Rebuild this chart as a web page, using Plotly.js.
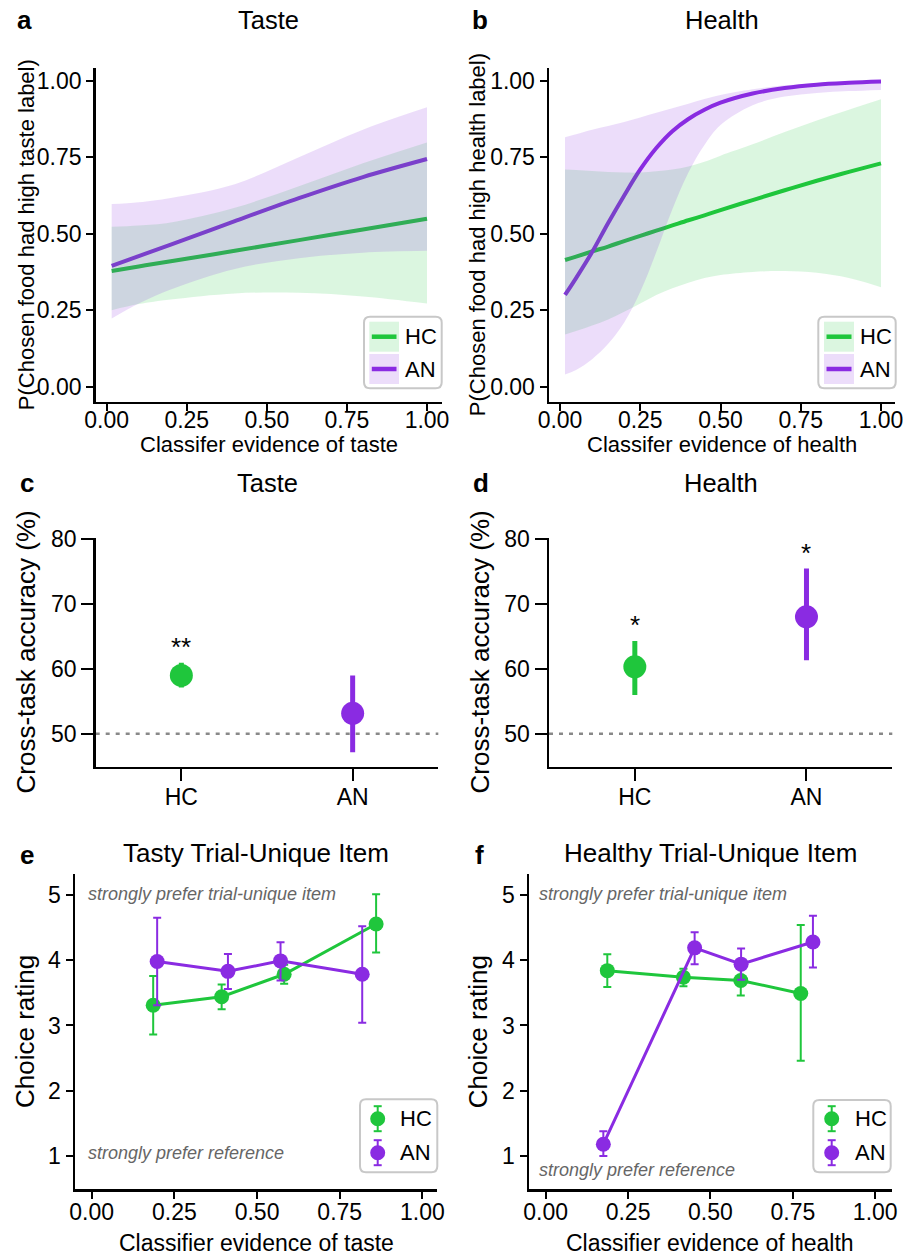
<!DOCTYPE html>
<html><head><meta charset="utf-8">
<script src="https://cdn.plot.ly/plotly-3.0.1.min.js"></script>
<style>html,body{margin:0;padding:0;background:#fff}#chart{width:903px;height:1256px}</style>
</head><body><div id="chart"></div>
<script>
// ================= DATA =================
const groups = ['HC', 'AN'];

// Panel a: Taste – fitted probability curves and 95% bands
const tasteEvid = [0.0156, 0.1, 0.2, 0.4, 0.6, 0.8, 1.0];
const tasteHCfit = [0.378, 0.393, 0.410, 0.444, 0.479, 0.514, 0.549];
const tasteHClo  = [0.250, 0.270, 0.285, 0.305, 0.307, 0.295, 0.272];
const tasteHChi  = [0.523, 0.527, 0.537, 0.585, 0.655, 0.730, 0.798];
const tasteANfit = [0.395, 0.427, 0.464, 0.541, 0.616, 0.685, 0.744];
const tasteANlo  = [0.223, 0.272, 0.318, 0.385, 0.420, 0.438, 0.444];
const tasteANhi  = [0.597, 0.603, 0.617, 0.662, 0.750, 0.840, 0.913];

// Panel b: Health – fitted probability curves and 95% bands
const healthEvid  = [0.0156, 0.05, 0.1, 0.15, 0.2, 0.25, 0.3, 0.35, 0.4, 0.45, 0.5, 0.6, 0.7, 0.8, 0.9, 1.0];
const healthHCfit = [0.414, 0.425, 0.442, 0.458, 0.476, 0.493, 0.510, 0.527, 0.544, 0.560, 0.577, 0.610, 0.642, 0.673, 0.702, 0.730];
const healthHClo  = [0.171, 0.182, 0.200, 0.220, 0.245, 0.272, 0.300, 0.322, 0.340, 0.355, 0.365, 0.375, 0.378, 0.372, 0.355, 0.325];
const healthHChi  = [0.710, 0.708, 0.705, 0.702, 0.700, 0.700, 0.704, 0.710, 0.720, 0.735, 0.755, 0.792, 0.832, 0.870, 0.905, 0.939];
const healthANfit = [0.300, 0.355, 0.440, 0.535, 0.625, 0.710, 0.780, 0.835, 0.875, 0.905, 0.928, 0.958, 0.976, 0.987, 0.993, 0.997];
const healthANlo  = [0.040, 0.055, 0.090, 0.140, 0.210, 0.310, 0.440, 0.580, 0.700, 0.790, 0.855, 0.920, 0.948, 0.960, 0.966, 0.970];
const healthANhi  = [0.815, 0.825, 0.840, 0.852, 0.865, 0.880, 0.895, 0.910, 0.925, 0.940, 0.953, 0.972, 0.985, 0.992, 0.996, 0.998];

// Panels c, d: cross-task accuracy (%) with CI
const tasteAcc   = [58.97, 53.13];
const tasteAccLo = [57.1, 47.14];
const tasteAccHi = [60.9, 58.97];
const tasteSig   = ['**', ''];
const healthAcc   = [60.29, 67.97];
const healthAccLo = [55.94, 61.3];
const healthAccHi = [64.24, 75.4];
const healthSig   = ['*', '*'];
const chanceLevel = 50;

// Panel e: Tasty trial-unique item – choice rating by classifier evidence
const eHCx  = [0.186, 0.393, 0.582, 0.860];
const eHCy  = [3.31, 3.44, 3.785, 4.556];
const eHClo = [2.86, 3.25, 3.64, 4.12];
const eHChi = [3.76, 3.63, 3.93, 5.01];
const eANx  = [0.198, 0.412, 0.571, 0.818];
const eANy  = [3.98, 3.83, 3.99, 3.785];
const eANlo = [3.31, 3.56, 3.69, 3.04];
const eANhi = [4.65, 4.095, 4.275, 4.52];

// Panel f: Healthy trial-unique item
const fHCx  = [0.187, 0.418, 0.592, 0.774];
const fHCy  = [3.84, 3.74, 3.69, 3.49];
const fHClo = [3.59, 3.60, 3.46, 2.46];
const fHChi = [4.09, 3.87, 3.92, 4.54];
const fANx  = [0.175, 0.452, 0.593, 0.811];
const fANy  = [1.18, 4.19, 3.94, 4.28];
const fANlo = [1.00, 3.94, 3.70, 3.89];
const fANhi = [1.38, 4.43, 4.18, 4.68];

const probTicks = [0, 0.25, 0.5, 0.75, 1.0];
const accTicks = [50, 60, 70, 80];
const ratingTicks = [1, 2, 3, 4, 5];

// ================= STYLE =================
const W = 903, H = 1256;
const px = x => x / W;
const py = y => 1 - y / H;
const FONT = 'Liberation Sans, Arial, Helvetica, sans-serif';
const GREEN = '#1fc63c';
const PURPLE = '#8a2be2';
const GREEN_FILL = 'rgba(31,198,60,0.16)';
const PURPLE_FILL = 'rgba(138,43,226,0.16)';

const traces = [];

function curvePanel(xa, ya, xs, hcFit, hcLo, hcHi, anFit, anLo, anHi) {
  const base = {x: xs, xaxis: xa, yaxis: ya, mode: 'lines', hoverinfo: 'skip'};
  traces.push(Object.assign({}, base, {y: hcFit, line: {color: GREEN, width: 4, shape: 'spline'}}));
  traces.push(Object.assign({}, base, {y: anFit, line: {color: PURPLE, width: 4, shape: 'spline'}}));
  traces.push(Object.assign({}, base, {y: hcLo, line: {width: 0, color: 'rgba(0,0,0,0)', shape: 'spline'}}));
  traces.push(Object.assign({}, base, {y: hcHi, fill: 'tonexty', fillcolor: GREEN_FILL, line: {width: 0, color: 'rgba(0,0,0,0)', shape: 'spline'}}));
  traces.push(Object.assign({}, base, {y: anLo, line: {width: 0, color: 'rgba(0,0,0,0)', shape: 'spline'}}));
  traces.push(Object.assign({}, base, {y: anHi, fill: 'tonexty', fillcolor: PURPLE_FILL, line: {width: 0, color: 'rgba(0,0,0,0)', shape: 'spline'}}));
}
curvePanel('x', 'y', tasteEvid, tasteHCfit, tasteHClo, tasteHChi, tasteANfit, tasteANlo, tasteANhi);
curvePanel('x2', 'y2', healthEvid, healthHCfit, healthHClo, healthHChi, healthANfit, healthANlo, healthANhi);

const grpColors = [GREEN, PURPLE];
function accPanel(xa, ya, acc, lo, hi) {
  groups.forEach((g, i) => {
    traces.push({
      x: [g], y: [acc[i]], xaxis: xa, yaxis: ya, mode: 'markers',
      marker: {size: 23, color: grpColors[i]},
      error_y: {type: 'data', symmetric: false, array: [hi[i] - acc[i]], arrayminus: [acc[i] - lo[i]],
                color: grpColors[i], thickness: 5, width: 0},
      hoverinfo: 'skip'
    });
  });
}
accPanel('x3', 'y3', tasteAcc, tasteAccLo, tasteAccHi);
accPanel('x4', 'y4', healthAcc, healthAccLo, healthAccHi);

function ratingTrace(xa, ya, xs, ys, lo, hi, color) {
  traces.push({
    x: xs, y: ys, xaxis: xa, yaxis: ya, mode: 'lines+markers',
    line: {color: color, width: 3}, marker: {size: 15, color: color},
    error_y: {type: 'data', symmetric: false, array: hi.map((v, i) => v - ys[i]), arrayminus: lo.map((v, i) => ys[i] - v),
              color: color, thickness: 2, width: 4},
    hoverinfo: 'skip'
  });
}
ratingTrace('x5', 'y5', eHCx, eHCy, eHClo, eHChi, GREEN);
ratingTrace('x5', 'y5', eANx, eANy, eANlo, eANhi, PURPLE);
ratingTrace('x6', 'y6', fHCx, fHCy, fHClo, fHChi, GREEN);
ratingTrace('x6', 'y6', fANx, fANy, fANlo, fANhi, PURPLE);

// ================= LAYOUT =================
function axis(dom, range, extra) {
  return Object.assign({
    domain: dom, range: range, showline: true, linecolor: '#000', linewidth: 2.5,
    showgrid: false, zeroline: false, ticks: 'outside', ticklen: 7, tickwidth: 2, tickcolor: '#000',
    ticklabeloverflow: 'allow',
    tickfont: {family: FONT, size: 23, color: '#000'}, fixedrange: true
  }, extra || {});
}
const dxA = [px(95.7), px(442)], dxB = [px(549), px(895)];
const dxC = [px(95.7), px(438.3)], dxD = [px(549), px(892.3)];
const dxE = [px(75), px(437.3)], dxF = [px(529), px(891.7)];
const dyAB = [py(401.7), py(67.7)], dyCD = [py(766.7), py(538.3)], dyEF = [py(1189), py(874.3)];

const probAxis = {tickvals: probTicks, tickformat: '.2f'};
const layout = {
  width: W, height: H, margin: {l: 0, r: 0, t: 0, b: 0},
  paper_bgcolor: '#fff', plot_bgcolor: 'rgba(0,0,0,0)', showlegend: false,
  font: {family: FONT, color: '#000'},
  xaxis:  axis(dxA, [-0.0343, 1.0468], Object.assign({anchor: 'y', ticklabelstandoff: -11}, probAxis)),
  yaxis:  axis(dyAB, [-0.049, 1.0425], Object.assign({anchor: 'x'}, probAxis)),
  xaxis2: axis(dxB, [-0.0343, 1.0436], Object.assign({anchor: 'y2', ticklabelstandoff: -11}, probAxis)),
  yaxis2: axis(dyAB, [-0.049, 1.0425], Object.assign({anchor: 'x2'}, probAxis)),
  xaxis3: axis(dxC, [-0.5, 1.5], {anchor: 'y3', type: 'category', categoryorder: 'array', categoryarray: groups, ticklen: 12, ticklabelstandoff: -4}),
  yaxis3: axis(dyCD, [44.93, 80.05], {anchor: 'x3', tickvals: accTicks, ticklen: 12}),
  xaxis4: axis(dxD, [-0.5, 1.5], {anchor: 'y4', type: 'category', categoryorder: 'array', categoryarray: groups, ticklen: 12, ticklabelstandoff: -4}),
  yaxis4: axis(dyCD, [44.93, 80.05], {anchor: 'x4', tickvals: accTicks, ticklen: 12}),
  xaxis5: axis(dxE, [-0.0504, 1.045], Object.assign({anchor: 'y5', ticklabelstandoff: -6}, probAxis)),
  yaxis5: axis(dyEF, [0.494, 5.317], {anchor: 'x5', tickvals: ratingTicks}),
  xaxis6: axis(dxF, [-0.0506, 1.05], Object.assign({anchor: 'y6', ticklabelstandoff: -6}, probAxis)),
  yaxis6: axis(dyEF, [0.494, 5.317], {anchor: 'x6', tickvals: ratingTicks}),
  shapes: [], annotations: []
};

const A = layout.annotations, S = layout.shapes;
function txt(text, x, y, size, opts) {
  A.push(Object.assign({text: text, xref: 'paper', yref: 'paper', x: px(x), y: py(y), showarrow: false,
    xanchor: 'center', yanchor: 'middle', font: {family: FONT, size: size, color: '#000'}}, opts || {}));
}
// panel letters
[['a', 15, 20.5], ['b', 470, 20.5], ['c', 18, 483], ['d', 470.5, 483], ['e', 18, 854.5], ['f', 473, 854.5]]
  .forEach(([l, x, y]) => txt('<b>' + l + '</b>', x, y, 26, {xanchor: 'left'}));
// titles
txt('Taste', 268.9, 19.5, 25.5); txt('Health', 722, 19.5, 25.5);
txt('Taste', 267, 483.5, 25.5); txt('Health', 720.7, 483.5, 25.5);
txt('Tasty Trial-Unique Item', 256.2, 853.5, 26); txt('Healthy Trial-Unique Item', 710.3, 853.5, 26);
// axis titles
txt('Classifer evidence of taste', 268.9, 444, 22); txt('Classifer evidence of health', 722, 444, 22);
txt('P(Chosen food had high taste label)', 26.5, 234.7, 22, {textangle: -90});
txt('P(Chosen food had high health label)', 477.5, 234.7, 22, {textangle: -90});
txt('Cross-task accuracy (%)', 26, 652.5, 26, {textangle: -90});
txt('Cross-task accuracy (%)', 480, 652.5, 26, {textangle: -90});
txt('Choice rating', 24.3, 1031.7, 26, {textangle: -90});
txt('Choice rating', 477.5, 1031.7, 26, {textangle: -90});
txt('Classifier evidence of taste', 256.2, 1243, 23); txt('Classifier evidence of health', 710.3, 1243, 23);

// significance stars
function stars(xa, ya, sig, hi) {
  groups.forEach((g, i) => {
    if (!sig[i]) return;
    A.push({text: sig[i], xref: xa, yref: ya, x: g, y: hi[i], yshift: -1, showarrow: false,
      xanchor: 'center', yanchor: 'bottom', font: {family: FONT, size: 26, color: '#000'}});
  });
}
stars('x3', 'y3', tasteSig, tasteAccHi);
stars('x4', 'y4', healthSig, healthAccHi);

// chance lines
['3', '4'].forEach(n => S.push({type: 'line', xref: 'x' + n + ' domain', yref: 'y' + n, x0: 0, x1: 1, y0: chanceLevel, y1: chanceLevel,
  line: {color: '#888', width: 2.5, dash: '4px,6px'}, layer: 'below'}));

// preference annotations
function pref(xa, ya, x, yTop, yBot) {
  const f = {family: FONT, size: 18, color: '#666'};
  A.push({text: '<i>strongly prefer trial-unique item</i>', xref: xa, yref: ya, x: x, y: yTop, showarrow: false, xanchor: 'left', yanchor: 'middle', font: f});
  A.push({text: '<i>strongly prefer reference</i>', xref: xa, yref: ya, x: x, y: yBot, showarrow: false, xanchor: 'left', yanchor: 'middle', font: f});
}
pref('x5', 'y5', -0.016, 5.01, 1.04);
pref('x6', 'y6', -0.025, 5.01, 0.785);

// custom legends
function roundRect(x0, y0, x1, y1, r) {
  const rx = r / W, ry = r / H;
  const X0 = px(x0), X1 = px(x1), Y0 = py(y0), Y1 = py(y1);
  return `M ${X0 + rx},${Y0} L ${X1 - rx},${Y0} Q ${X1},${Y0} ${X1},${Y0 - ry} L ${X1},${Y1 + ry} Q ${X1},${Y1} ${X1 - rx},${Y1} ` +
         `L ${X0 + rx},${Y1} Q ${X0},${Y1} ${X0},${Y1 + ry} L ${X0},${Y0 - ry} Q ${X0},${Y0} ${X0 + rx},${Y0} Z`;
}
function box(x0, y0, x1, y1) {
  S.push({type: 'path', xref: 'paper', yref: 'paper', path: roundRect(x0, y0, x1, y1, 6),
    fillcolor: 'rgba(255,255,255,0.85)', line: {color: '#c8c8c8', width: 2}});
}
function pRect(x0, y0, x1, y1, fill) {
  S.push({type: 'rect', xref: 'paper', yref: 'paper', x0: px(x0), x1: px(x1), y0: py(y1), y1: py(y0), fillcolor: fill, line: {width: 0}});
}
function pLine(x0, y0, x1, y1, color, w) {
  S.push({type: 'line', xref: 'paper', yref: 'paper', x0: px(x0), x1: px(x1), y0: py(y0), y1: py(y1), line: {color: color, width: w}});
}
function pCircle(cx, cy, r, color) {
  S.push({type: 'circle', xref: 'paper', yref: 'paper', x0: px(cx - r), x1: px(cx + r), y0: py(cy + r), y1: py(cy - r), fillcolor: color, line: {width: 0}});
}
function bandLegend(bx0, bx1, sx0, sx1, tx) {
  box(bx0, 316.7, bx1, 388.3);
  const rows = [[321.7, 351.7, GREEN_FILL, GREEN], [354, 384, PURPLE_FILL, PURPLE]];
  rows.forEach(([y0, y1, f, c], i) => {
    pRect(sx0, y0, sx1, y1, f);
    pLine(sx0 + 2.5, (y0 + y1) / 2, sx1 - 2.5, (y0 + y1) / 2, c, 4.5);
    txt(groups[i], tx, (y0 + y1) / 2, 22, {xanchor: 'left'});
  });
}
bandLegend(364, 441.7, 369.3, 399, 403);
bandLegend(818.3, 895.7, 824, 854, 857.5);

function pointLegend(bx0, bx1, by0, by1, mx, tx, ys) {
  box(bx0, by0, bx1, by1);
  [GREEN, PURPLE].forEach((c, i) => {
    const cy = ys[i];
    pLine(mx, cy - 12.5, mx, cy + 12.5, c, 2);
    pLine(mx - 4, cy - 12.5, mx + 4, cy - 12.5, c, 2);
    pLine(mx - 4, cy + 12.5, mx + 4, cy + 12.5, c, 2);
    pCircle(mx, cy, 7.5, c);
    txt(groups[i], tx, cy, 22, {xanchor: 'left'});
  });
}
pointLegend(360, 437.3, 1099.3, 1172.3, 377.7, 398, [1118.7, 1152.7]);
pointLegend(813.3, 890.7, 1100, 1172.3, 831.7, 852.5, [1118.7, 1152.7]);

Plotly.newPlot('chart', traces, layout, {staticPlot: true, displayModeBar: false});
</script>
</body></html>
